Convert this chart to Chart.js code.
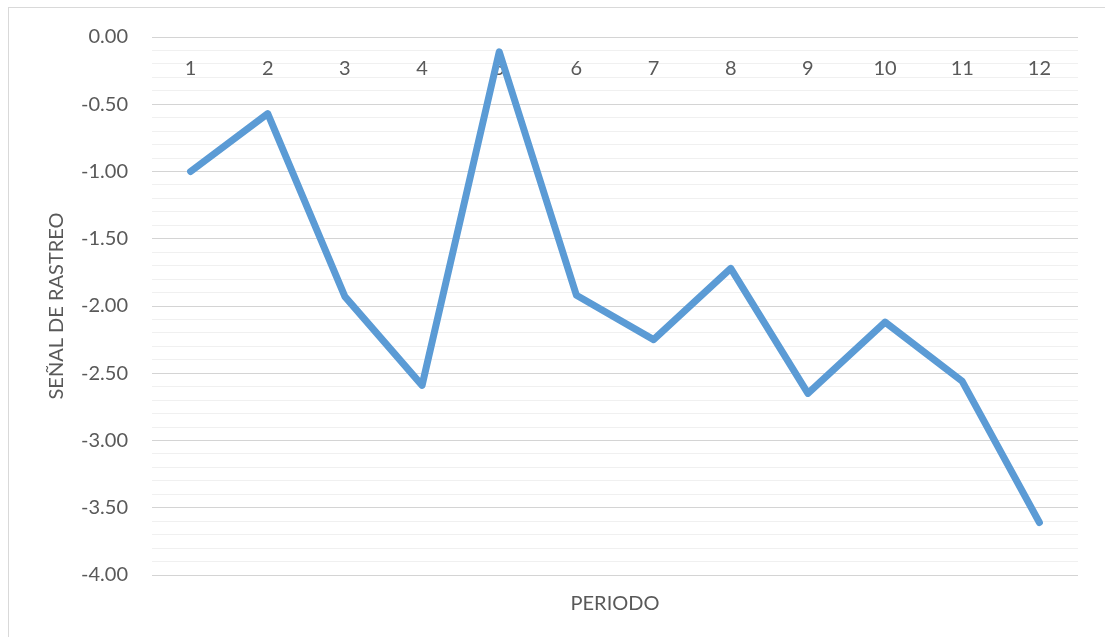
<!DOCTYPE html>
<html>
<head>
<meta charset="utf-8">
<script src="https://cdn.jsdelivr.net/npm/chart.js@4/dist/chart.umd.min.js"></script>
<style>
  html, body { margin: 0; padding: 0; background: #fff; }
  #wrap { position: relative; width: 1105px; height: 637px; overflow: hidden; }
  #frame {
    position: absolute; left: 8px; top: 7px; width: 1200px; height: 700px;
    border-left: 1px solid #d9d9d9; border-top: 1px solid #d9d9d9;
  }
  canvas { position: absolute; left: 0; top: 0; }
</style>
</head>
<body>
<div id="wrap">
  <div id="frame"></div>
  <canvas id="trackingChart" width="1105" height="637"></canvas>
</div>
<script>
// Datos del gráfico
const periodos = ["1", "2", "3", "4", "5", "6", "7", "8", "9", "10", "11", "12"]
const senalRastreo = [-1.0, -0.57, -1.93, -2.59, -0.11, -1.92, -2.25, -1.72, -2.65, -2.12, -2.56, -3.61]
const yMin = -4
const yMax = 0
const yMajorStep = 0.5
const yMinorStep = 0.1

const textColor = "#595959"
const fontFamily = "Lato, 'Open Sans', sans-serif"

function isMajor(value) {
  const r = value / yMajorStep
  return Math.abs(r - Math.round(r)) < 1e-6
}

const ctx = document.getElementById("trackingChart").getContext("2d")

new Chart(ctx, {
  type: "line",
  data: {
    labels: periodos,
    datasets: [
      {
        label: "SEÑAL DE RASTREO",
        data: senalRastreo,
        borderColor: "#5b9bd5",
        backgroundColor: "#5b9bd5",
        borderWidth: 7,
        borderCapStyle: "round",
        borderJoinStyle: "round",
        pointRadius: 0,
        tension: 0,
        xAxisID: "x",
        yAxisID: "y",
      },
    ],
  },
  options: {
    responsive: false,
    animation: false,
    layout: { padding: { top: 37, right: 27, left: 0, bottom: 0 } },
    plugins: {
      legend: { display: false },
      tooltip: { enabled: false },
    },
    scales: {
      x: {
        type: "category",
        position: "bottom",
        offset: true,
        grid: { display: false },
        border: { display: false },
        ticks: { display: false },
        title: {
          display: true,
          text: "PERIODO",
          color: textColor,
          font: { family: fontFamily, size: 20 },
          padding: { top: 0, bottom: 21 },
        },
        afterFit: (scale) => {
          scale.height = 62
        },
      },
      // etiquetas de periodo colocadas sobre la línea del 0
      xTop: {
        type: "category",
        position: { y: 0 },
        offset: true,
        grid: {
          display: true,
          drawOnChartArea: false,
          drawTicks: true,
          tickLength: 20,
          tickColor: "rgba(0,0,0,0)",
        },
        border: { display: false },
        ticks: {
          color: textColor,
          font: { family: fontFamily, size: 20 },
          padding: 0,
          maxRotation: 0,
          autoSkip: false,
        },
      },
      y: {
        type: "linear",
        position: "left",
        min: yMin,
        max: yMax,
        border: { display: false },
        grid: {
          drawTicks: false,
          lineWidth: 1,
          color: (c) => (c.tick && isMajor(c.tick.value) ? "#d4d4d4" : "#f0f0f0"),
        },
        ticks: {
          stepSize: yMinorStep,
          autoSkip: false,
          padding: 24,
          color: textColor,
          font: { family: fontFamily, size: 20 },
          callback: (value) => (isMajor(value) ? Number(value).toFixed(2) : ""),
        },
        title: {
          display: true,
          text: "SEÑAL DE RASTREO",
          color: textColor,
          font: { family: fontFamily, size: 20 },
          padding: { top: 45, bottom: 0 },
        },
        afterFit: (scale) => {
          scale.width = 152
        },
      },
    },
  },
})
</script>
</body>
</html>
